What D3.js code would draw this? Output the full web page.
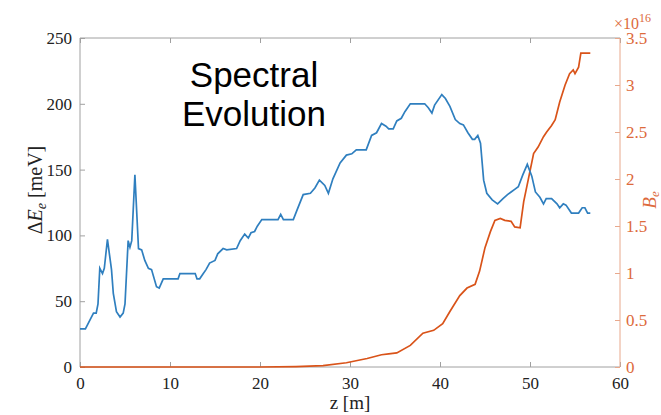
<!DOCTYPE html>
<html><head><meta charset="utf-8">
<script src="https://cdn.jsdelivr.net/npm/d3@7"></script>
<style>body{margin:0;background:#fff}svg{display:block}</style>
</head><body>
<svg id="c" width="661" height="415"></svg>
<script>
// ---- data ----
const blueZ = [0,0.6,0.9,1.5,1.8,2.0,2.2,2.5,2.7,3.05,3.5,3.7,4.05,4.45,4.8,5.0,5.35,5.55,5.75,6.1,6.5,6.85,7.2,7.6,7.95,8.5,8.8,9.25,10.9,11.1,12.8,13.0,13.3,13.7,14.0,14.4,15.0,15.3,15.9,16.3,17.4,17.8,18.3,18.7,19.0,19.4,19.7,20.2,22.0,22.3,22.6,23.7,24.1,24.8,25.6,26.1,26.6,27.2,27.6,28.1,28.9,29.6,30.2,30.7,31.8,32.4,32.95,33.5,34.0,34.3,34.8,35.2,35.7,36.1,36.7,38.3,38.7,39.1,39.4,40.2,40.6,41.1,41.7,42.2,42.6,43.1,43.6,43.85,44.2,44.5,44.85,45.2,45.8,46.4,47.0,47.5,47.9,48.3,48.7,49.2,49.7,50.2,50.6,51.1,51.5,51.8,52.4,53.0,53.3,53.7,54.0,54.6,55.4,55.8,56.1,56.4,56.7];
const blueV = [29,29,33,41,41,48,75,71,75,97,74,56,42,38,41,48,96,91,96,146,90,89,81,75,74,61,60,67,67,71,71,67,67,71,74,79,81,86,90,89,90,96,101,98,102,103,107,112,112,116,112,112,119,131,132,136,142,138,132,143,155,161,162,165,165,176,178,185,183,181,181,187,189,194,200,200,197,193,199,207,204,198,188,185,184,178,173,173,176,170,142,132,127,124,128,131,133,135,137,146,154,145,133,129,124,128,128,124,121,124,123,117,117,121,121,117,117];
const orangeZ = [0,20,24,27,29.6,31.9,33.5,34.3,35.2,36.7,38.1,39.3,40.3,41.1,42.2,43.0,43.9,44.4,45.0,45.6,46.1,46.7,47.2,47.9,48.3,48.9,49.3,49.8,50.4,50.9,51.5,51.85,52.4,52.8,53.3,53.9,54.4,54.8,55.0,55.4,55.65,56.7];
const orangeV = [0,0,0.005,0.015,0.045,0.09,0.13,0.14,0.15,0.23,0.36,0.39,0.46,0.59,0.76,0.84,0.88,1.02,1.27,1.44,1.56,1.58,1.56,1.55,1.49,1.48,1.76,1.99,2.27,2.34,2.45,2.50,2.57,2.63,2.82,3.0,3.12,3.16,3.12,3.19,3.34,3.34];
const xTicks = [0,10,20,30,40,50,60];
const yLeftTicks = [0,50,100,150,200,250];
const yRightTicks = [0,0.5,1,1.5,2,2.5,3,3.5];
const titleLines = ["Spectral","Evolution"];

// ---- layout ----
const L=80, R=620, T=38, B=367;
const blue="#2f7fbf", orange="#d95319", gray="#a0a0a0", txt="#222";
const svg=d3.select("#c");
const x=d3.scaleLinear().domain([0,60]).range([L,R]);
const yL=d3.scaleLinear().domain([0,250]).range([B,T]);
const yR=d3.scaleLinear().domain([0,3.5]).range([B,T]);
const serif="'Liberation Serif','Times New Roman',serif";

// box
svg.append("line").attr("x1",L).attr("x2",R).attr("y1",T).attr("y2",T).attr("stroke",gray);
// bottom axis
const gx=svg.append("g").attr("transform",`translate(0,${B})`)
  .call(d3.axisBottom(x).tickValues(xTicks).tickSize(-5).tickPadding(10).tickFormat(d3.format("d")));
const gxt=svg.append("g").attr("transform",`translate(0,${T})`)
  .call(d3.axisTop(x).tickValues(xTicks).tickSize(-5).tickFormat(""));
gxt.select(".domain").remove();
const gl=svg.append("g").attr("transform",`translate(${L},0)`)
  .call(d3.axisLeft(yL).tickValues(yLeftTicks).tickSize(-5).tickPadding(8).tickFormat(d3.format("d")));
const gr=svg.append("g").attr("transform",`translate(${R},0)`)
  .call(d3.axisRight(yR).tickValues(yRightTicks).tickSize(-5).tickPadding(6).tickFormat(d=>d3.format("")(d)));
[gx,gxt,gl].forEach(g=>{g.selectAll("path,line").attr("stroke",gray);g.selectAll("text").attr("fill",txt).style("font-family",serif).style("font-size","17px");});
gr.selectAll("path,line").attr("stroke","#e8a88c");
gr.selectAll("text").attr("fill","#dd6a3c").style("font-family",serif).style("font-size","17px");
gx.selectAll(".domain").attr("d",`M${L},0H${R}`);
gl.selectAll(".domain").attr("d",`M0,${B}V${T}`);
gr.selectAll(".domain").attr("d",`M0,${B}V${T}`);

// lines
svg.append("path").datum(orangeZ.map((z,i)=>[z,orangeV[i]]))
  .attr("fill","none").attr("stroke",orange).attr("stroke-width",1.7)
  .attr("d",d3.line().x(d=>x(d[0])).y(d=>yR(d[1])));
svg.append("path").datum(blueZ.map((z,i)=>[z,blueV[i]]))
  .attr("fill","none").attr("stroke",blue).attr("stroke-width",1.7)
  .attr("d",d3.line().x(d=>x(d[0])).y(d=>yL(d[1])));

// axis labels
svg.append("text").attr("x",350).attr("y",409).attr("text-anchor","middle")
  .style("font-family",serif).style("font-size","19px").attr("fill",txt).text("z [m]");
const yl=svg.append("text").attr("transform","translate(42,190) rotate(-90)").attr("text-anchor","middle")
  .style("font-family",serif).style("font-size","20px").attr("fill",txt);
yl.append("tspan").text("Δ");
yl.append("tspan").style("font-style","italic").text("E");
yl.append("tspan").attr("dy",4).style("font-size","14px").style("font-style","italic").text("e");
yl.append("tspan").attr("dy",-4).text(" [meV]");
const yr=svg.append("text").attr("transform","translate(656,200) rotate(-90)").attr("text-anchor","middle")
  .style("font-family",serif).style("font-size","19px").attr("fill","#dd6a3c");
yr.append("tspan").style("font-style","italic").text("B");
yr.append("tspan").attr("dy",3).style("font-size","13px").style("font-style","italic").text("e");
const ex=svg.append("text").attr("x",614).attr("y",29).style("font-family",serif).style("font-size","16px").attr("fill","#dd6a3c");
ex.append("tspan").text("×10");
ex.append("tspan").attr("dy",-7).style("font-size","12px").text("16");

// title
svg.append("text").attr("x",254).attr("y",87).attr("text-anchor","middle")
  .style("font-family","'Liberation Sans',Arial,sans-serif").style("font-size","35px").attr("fill","#000").text(titleLines[0]);
svg.append("text").attr("x",254).attr("y",126).attr("text-anchor","middle")
  .style("font-family","'Liberation Sans',Arial,sans-serif").style("font-size","35px").attr("fill","#000").text(titleLines[1]);
</script>
</body></html>
